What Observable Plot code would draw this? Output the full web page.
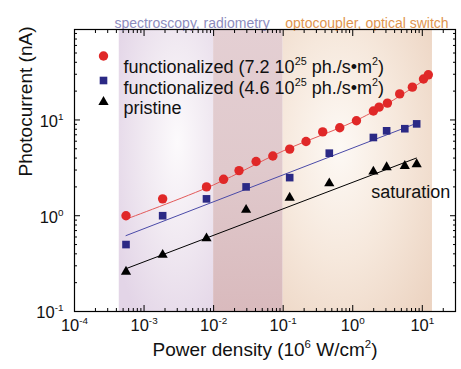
<!DOCTYPE html>
<html><head><meta charset="utf-8">
<script src="https://cdn.jsdelivr.net/npm/d3@7"></script>
<script src="https://cdn.jsdelivr.net/npm/@observablehq/plot@0.6"></script>
<style>html,body{margin:0;padding:0;background:#fff;} #chart{width:461px;height:369px;overflow:hidden;}</style>
</head><body><div id="chart"></div>
<script>
// ---- data ----
const powerRed   = [5.5e-4, 1.85e-3, 7.9e-3, 0.0139, 0.0232, 0.0408, 0.071, 0.124, 0.213, 0.37, 0.65, 1.13, 1.98, 2.39, 3.15, 4.73, 7.2, 10.4, 12.2];
const currentRed = [1.0, 1.5, 2.0, 2.4, 2.96, 3.68, 4.2, 4.96, 5.96, 7.5, 8.3, 9.8, 12.4, 13.6, 15.0, 18.7, 22.0, 26.8, 29.6];
const powerBlue   = [5.5e-4, 1.85e-3, 7.9e-3, 0.0293, 0.124, 0.46, 1.98, 3.07, 5.6, 8.3];
const currentBlue = [0.5, 1.0, 1.5, 2.0, 2.5, 4.5, 6.56, 7.7, 8.1, 9.1];
const powerBlack   = [5.5e-4, 1.85e-3, 7.9e-3, 0.0293, 0.124, 0.46, 1.98, 3.07, 5.6, 8.3];
const currentBlack = [0.26, 0.39, 0.58, 1.15, 1.54, 2.18, 2.89, 3.21, 3.31, 3.45];
// fit lines
const fitRedX = [5.5e-4, 1e-2, 1e-1, 1, 3.15, 12.8];
const fitRedY = [0.92, 2.1, 4.75, 9.5, 14.8, 28.5];
const fitBlueX = [5.5e-4, 8.5];
const fitBlueY = [0.62, 9.3];
const fitBlackX = [5.5e-4, 8.2];
const fitBlackY = [0.28, 4.0];
// application regions
const regionStart = [4.4e-4, 1e-2, 1e-1];
const regionEnd   = [1e-2, 1e-1, 14];
const regionLabels = ["spectroscopy, radiometry", "optocoupler, optical switch"];
const regionLabelX = [4.9e-3, 1.6];
// legend / annotation
const seriesNames = ["functionalized (7.2 10^{25} ph./s•m^{2})", "functionalized (4.6 10^{25} ph./s•m^{2})", "pristine"];
const annotText = ["saturation"];
const annotX = [6.8];
const annotY = [1.74];
// axes
const xDomain = [1e-4, 30];
const yDomain = [0.1, 88];
const xMajor = [1e-4, 1e-3, 1e-2, 1e-1, 1, 10];
const yMajor = [0.1, 1, 10];
const xTickLabels = ["10^{-4}", "10^{-3}", "10^{-2}", "10^{-1}", "10^{0}", "10^{1}"];
const yTickLabels = ["10^{-1}", "10^{0}", "10^{1}"];
const xTitle = "Power density (10^{6} W/cm^{2})";
const yTitle = "Photocurrent (nA)";

// ---- derived tables ----
const rows = (xs, ys) => xs.map((x, i) => ({x, y: ys[i]}));
const red = rows(powerRed, currentRed), blue = rows(powerBlue, currentBlue), black = rows(powerBlack, currentBlack);
const minorOf = (majors, max) => {
  const out = [];
  for (const m of majors) for (let k = 2; k <= 9; k++) { const v = m * k; if (v <= max * 1.0001) out.push(v); }
  return out;
};
const xMinor = minorOf(xMajor, xDomain[1]);
const yMinor = minorOf(yMajor, yDomain[1]);

// ---- styles ----
const C = {red: "#e02828", redLine: "#e35a5a", blue: "#2b2985", blueLine: "#4a4aa8", black: "#000"};
const regionFills = ["url(#gPurple)", "url(#gMauve)", "url(#gPeach)"];
const labelColors = ["#8d8cbd", "#e0954f"];

const defs = () => {
  const d = document.createElementNS("http://www.w3.org/2000/svg", "defs");
  d.innerHTML = `
  <radialGradient id="gPurple" cx="0.62" cy="0.4" r="0.75">
    <stop offset="0" stop-color="#fcfafc"/><stop offset="0.45" stop-color="#f1eaf2"/><stop offset="1" stop-color="#e3d5e7"/>
  </radialGradient>
  <linearGradient id="gMauve" x1="0" y1="0" x2="0" y2="1">
    <stop offset="0" stop-color="#e4cfd3"/><stop offset="0.5" stop-color="#e0c9cc"/><stop offset="1" stop-color="#d9babd"/>
  </linearGradient>
  <radialGradient id="gPeach" cx="0.38" cy="0.42" r="0.8">
    <stop offset="0" stop-color="#fdf9f5"/><stop offset="0.5" stop-color="#f6e8dc"/><stop offset="1" stop-color="#ecd4c2"/>
  </radialGradient>`;
  return d;
};

const marks = [defs];
regionStart.forEach((s, i) => marks.push(Plot.rect([{s, e: regionEnd[i]}], {x1: "s", x2: "e", fill: regionFills[i]})));
// ticks (inward) on all four sides
marks.push(
  Plot.axisX(xMajor, {anchor: "bottom", tickSize: -6, tickFormat: () => "", label: null}),
  Plot.axisX(xMinor, {anchor: "bottom", tickSize: -3, tickFormat: () => "", label: null}),
  Plot.axisX(xMajor, {anchor: "top", tickSize: -6, tickFormat: () => "", label: null}),
  Plot.axisX(xMinor, {anchor: "top", tickSize: -3, tickFormat: () => "", label: null}),
  Plot.axisY(yMajor, {anchor: "left", tickSize: -6, tickFormat: () => "", label: null}),
  Plot.axisY(yMinor, {anchor: "left", tickSize: -3, tickFormat: () => "", label: null}),
  Plot.axisY(yMajor, {anchor: "right", tickSize: -6, tickFormat: () => "", label: null}),
  Plot.axisY(yMinor, {anchor: "right", tickSize: -3, tickFormat: () => "", label: null})
);
// tick labels
marks.push(Plot.text(xMajor, {x: d => d, frameAnchor: "bottom", lineAnchor: "top", dy: 8, text: (d, i) => xTickLabels[i], fontSize: 16.5, fill: "#111"}));
marks.push(Plot.text(yMajor, {y: d => d, frameAnchor: "left", textAnchor: "end", dx: -11, dy: 1.5, text: (d, i) => yTickLabels[i], fontSize: 16.5, fill: "#111"}));
// fit lines
marks.push(Plot.line(rows(fitRedX, fitRedY), {x: "x", y: "y", stroke: C.redLine, strokeWidth: 1, curve: "catmull-rom"}));
marks.push(Plot.line(rows(fitBlueX, fitBlueY), {x: "x", y: "y", stroke: C.blueLine, strokeWidth: 1}));
marks.push(Plot.line(rows(fitBlackX, fitBlackY), {x: "x", y: "y", stroke: C.black, strokeWidth: 1}));
// data points
marks.push(Plot.dot(red, {x: "x", y: "y", r: 4.7, fill: C.red, symbol: "circle"}));
marks.push(Plot.dot(blue, {x: "x", y: "y", r: 4.3, fill: C.blue, symbol: "square"}));
marks.push(Plot.dot(black, {x: "x", y: "y", r: 3.8, fill: C.black, symbol: "triangle"}));
// legend
const legSym = ["circle", "square", "triangle"], legFill = [C.red, C.blue, C.black], legR = [4.7, 4.3, 3.8];
const legSymDy = [26.5, 51, 72.5], legTextDy = [30.5, 51.5, 72];
seriesNames.forEach((name, i) => {
  marks.push(Plot.dot([name], {frameAnchor: "top-left", dx: 29, dy: legSymDy[i], r: legR[i], fill: legFill[i], symbol: legSym[i]}));
  marks.push(Plot.text([name], {frameAnchor: "top-left", dx: 49, dy: legTextDy[i], text: d => d, textAnchor: "start", fontSize: 18, fill: "#111"}));
});
// region labels
regionLabels.forEach((t, i) => marks.push(Plot.text([t], {x: () => regionLabelX[i], frameAnchor: "top", dy: -11, text: d => d, fontSize: 14, fill: labelColors[i]})));
// annotation
marks.push(Plot.text(annotText.map((t, i) => ({t, x: annotX[i], y: annotY[i]})), {x: "x", y: "y", text: "t", fontSize: 18, fill: "#111"}));
// axis titles
marks.push(Plot.text([xTitle], {frameAnchor: "bottom", dy: 44, text: d => d, fontSize: 19, fill: "#111"}));
marks.push(Plot.text([yTitle], {frameAnchor: "left", dx: -48.5, dy: 6, rotate: -90, text: d => d, fontSize: 19, fill: "#111"}));
marks.push(Plot.frame({stroke: "#000", strokeWidth: 1.2}));

const chart = Plot.plot({
  width: 461, height: 369,
  marginLeft: 74, marginRight: 6, marginTop: 29, marginBottom: 58,
  x: {type: "log", domain: xDomain},
  y: {type: "log", domain: yDomain},
  style: {fontFamily: "'Liberation Sans', Arial, sans-serif", fontSize: "15px", background: "#fff", color: "#000"},
  marks
});
document.getElementById("chart").appendChild(chart);

// superscript markup -> tspans
chart.querySelectorAll("text").forEach(t => {
  const s = t.textContent;
  if (!s.includes("^{")) return;
  const fs = parseFloat(getComputedStyle(t).fontSize) || 15;
  const shift = +(0.42 * fs).toFixed(2);
  while (t.firstChild) t.removeChild(t.firstChild);
  const re = /\^\{([^}]*)\}/g;
  let last = 0, m, raised = false;
  const add = (str, isSup) => {
    if (!str) return;
    const ts = document.createElementNS("http://www.w3.org/2000/svg", "tspan");
    ts.textContent = str;
    if (isSup) { ts.style.fontSize = (0.6 * fs).toFixed(1) + "px"; ts.setAttribute("dy", -shift); raised = true; }
    else if (raised) { ts.setAttribute("dy", shift); raised = false; }
    t.appendChild(ts);
  };
  while ((m = re.exec(s))) { add(s.slice(last, m.index), false); add(m[1], true); last = re.lastIndex; }
  add(s.slice(last), false);
});
</script>
</body></html>
